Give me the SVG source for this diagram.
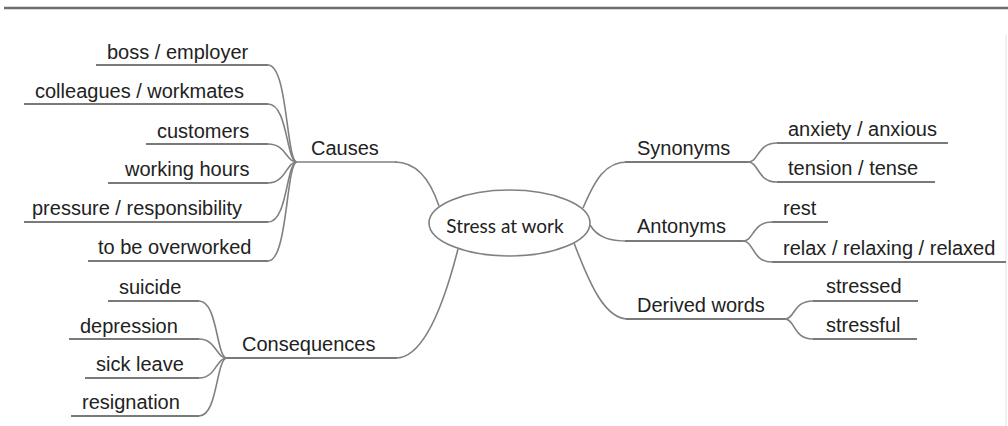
<svg xmlns="http://www.w3.org/2000/svg" width="1008" height="426" viewBox="0 0 1008 426">
<style>
.t{font-family:"Liberation Sans",Arial,sans-serif;font-size:20px;fill:#222}
.u{stroke:#7a7a7a;stroke-width:2;fill:none}
.c{stroke:#808080;stroke-width:1.6;fill:none}
.ctr{font-family:Lato,"Liberation Sans",sans-serif;font-size:19px;fill:#222}
</style>
<rect width="1008" height="426" fill="#fff"/>
<line x1="4" y1="8" x2="1008" y2="8" stroke="#6e6e6e" stroke-width="2.5"/>
<line x1="1006" y1="35" x2="1006" y2="426" stroke="#e2e2e2" stroke-width="1"/>
<g id="connectors">
<path class="c" d="M268,65 C288,65 286,162 297,162"/>
<path class="c" d="M268,104 C288,104 286,162 297,162"/>
<path class="c" d="M268,144 C286,144 286,162 297,162"/>
<path class="c" d="M268,183 C286,183 286,162 297,162"/>
<path class="c" d="M268,222 C288,222 286,162 297,162"/>
<path class="c" d="M268,261 C288,261 286,162 297,162"/>
<path class="c" d="M297,162 L397,162"/>
<path class="c" d="M395,162 C420,162 432,185 439,206"/>
<path class="c" d="M199,301 C218,301 216,358 227,358"/>
<path class="c" d="M199,339 C216,339 216,358 227,358"/>
<path class="c" d="M199,378 C216,378 216,358 227,358"/>
<path class="c" d="M199,416 C218,416 216,358 227,358"/>
<path class="u" d="M227,358 L397,358"/>
<path class="c" d="M396,358 C425,358 445,300 458,249"/>
<path class="c" d="M583,208 C595,180 605,162 627,162"/>
<path class="u" d="M625,162 L748,162"/>
<path class="c" d="M777,143 C757,143 759,162 748,162"/>
<path class="c" d="M777,182 C757,182 759,162 748,162"/>
<path class="c" d="M590,225 C598,238 610,241 628,241"/>
<path class="u" d="M625,241 L743,241"/>
<path class="c" d="M772,222 C752,222 754,241 743,241"/>
<path class="c" d="M772,262 C752,262 754,241 743,241"/>
<path class="c" d="M574,243 C590,285 605,319 628,319"/>
<path class="u" d="M626,319 L785,319"/>
<path class="c" d="M813,301 C793,301 795,319 785,319"/>
<path class="c" d="M813,339 C793,339 795,319 785,319"/>
</g>
<g id="center">
<ellipse cx="509.5" cy="223" rx="80.5" ry="33" fill="#fff" stroke="#808080" stroke-width="1.6"/>
<text class="ctr" x="505" y="233" text-anchor="middle">Stress at work</text>
</g>
<g id="causes"><text class="t" x="311" y="155">Causes</text></g>
<g id="boss"><line class="u" x1="96" y1="65" x2="268" y2="65"/><text class="t" x="107" y="59">boss / employer</text></g>
<g id="colleagues"><line class="u" x1="24" y1="104" x2="268" y2="104"/><text class="t" x="35" y="98">colleagues / workmates</text></g>
<g id="customers"><line class="u" x1="146" y1="144" x2="268" y2="144"/><text class="t" x="157" y="138">customers</text></g>
<g id="hours"><line class="u" x1="108" y1="183" x2="268" y2="183"/><text class="t" x="125" y="176">working hours</text></g>
<g id="pressure"><line class="u" x1="24" y1="222" x2="268" y2="222"/><text class="t" x="32" y="215">pressure / responsibility</text></g>
<g id="overworked"><line class="u" x1="88" y1="261" x2="268" y2="261"/><text class="t" x="98" y="254">to be overworked</text></g>
<g id="consequences"><text class="t" x="242" y="351">Consequences</text></g>
<g id="suicide"><line class="u" x1="108" y1="301" x2="199" y2="301"/><text class="t" x="119" y="294">suicide</text></g>
<g id="depression"><line class="u" x1="69" y1="339" x2="199" y2="339"/><text class="t" x="80" y="333">depression</text></g>
<g id="sickleave"><line class="u" x1="85" y1="378" x2="199" y2="378"/><text class="t" x="96" y="371">sick leave</text></g>
<g id="resignation"><line class="u" x1="71" y1="416" x2="199" y2="416"/><text class="t" x="82" y="409">resignation</text></g>
<g id="synonyms"><text class="t" x="637" y="155">Synonyms</text></g>
<g id="anxiety"><line class="u" x1="777" y1="143" x2="948" y2="143"/><text class="t" x="788" y="136">anxiety / anxious</text></g>
<g id="tension"><line class="u" x1="777" y1="182" x2="935" y2="182"/><text class="t" x="788" y="175">tension / tense</text></g>
<g id="antonyms"><text class="t" x="637" y="233">Antonyms</text></g>
<g id="rest"><line class="u" x1="772" y1="222" x2="828" y2="222"/><text class="t" x="783" y="215">rest</text></g>
<g id="relax"><line class="u" x1="772" y1="262" x2="1006" y2="262"/><text class="t" x="783" y="255">relax / relaxing / relaxed</text></g>
<g id="derived"><text class="t" x="637" y="312">Derived words</text></g>
<g id="stressed"><line class="u" x1="813" y1="301" x2="918" y2="301"/><text class="t" x="826" y="293">stressed</text></g>
<g id="stressful"><line class="u" x1="813" y1="339" x2="917" y2="339"/><text class="t" x="826" y="332">stressful</text></g>
</svg>
